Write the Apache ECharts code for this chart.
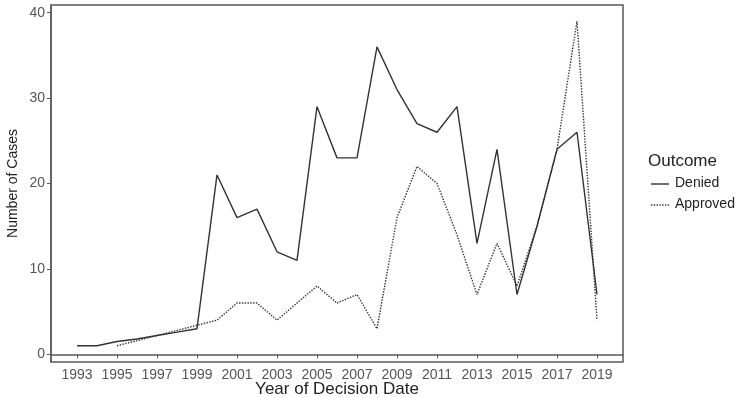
<!DOCTYPE html>
<html><head><meta charset="utf-8">
<script src="https://cdn.jsdelivr.net/npm/echarts@6/dist/echarts.min.js"></script>
<style>html,body{margin:0;padding:0;background:#fff}#c{width:746px;height:398px}</style>
</head><body><div id="c"></div>
<script>
const years = [1993,1994,1995,1996,1997,1998,1999,2000,2001,2002,2003,2004,2005,2006,2007,2008,2009,2010,2011,2012,2013,2014,2015,2016,2017,2018,2019];
const denied = [1,1,1.5,1.8,2.2,2.6,3,21,16,17,12,11,29,23,23,36,31,27,26,29,13,24,7,15,24,26,7];
const approvedYears = [1995,1996,1997,1998,1999,2000,2001,2002,2003,2004,2005,2006,2007,2008,2009,2010,2011,2012,2013,2014,2015,2016,2017,2018,2019];
const approved = [1,1.6,2.2,2.8,3.4,4,6,6,4,6,8,6,7,3,16,22,20,14,7,13,8,15,24,39,4];
const xTicks = [1993,1995,1997,1999,2001,2003,2005,2007,2009,2011,2013,2015,2017,2019];
const yTicks = [0,10,20,30,40];
const legendNames = ['Denied','Approved'];

const chart = echarts.init(document.getElementById('c'));
const font = 'Liberation Sans, Arial, sans-serif';
chart.setOption({
  animation: false,
  grid: {left: 51, right: 123, top: 5, bottom: 36, show: true, borderColor: '#5a5a5a', borderWidth: 1.5, backgroundColor: '#fff', containLabel: false, outerBoundsMode: 'none'},
  xAxis: {
    type: 'value', min: 1991.7, max: 2020.3,
    name: 'Year of Decision Date', nameLocation: 'middle', nameGap: 19, nameMoveOverlap: false,
    nameTextStyle: {color: '#222', fontSize: 17, fontFamily: font},
    axisLine: {show: true, lineStyle: {color: '#5a5a5a', width: 1.5}},
    axisTick: {show: true, length: 4, lineStyle: {color: '#5a5a5a'}, customValues: xTicks},
    axisLabel: {color: '#555', fontSize: 14, fontFamily: font, margin: 6, customValues: xTicks, formatter: v => String(v)},
    splitLine: {show: false}
  },
  yAxis: {
    type: 'value', min: -0.9, max: 40.9,
    name: 'Number of Cases', nameLocation: 'middle', nameGap: 31, nameMoveOverlap: false,
    nameTextStyle: {color: '#222', fontSize: 14, fontFamily: font},
    axisLine: {show: true, lineStyle: {color: '#5a5a5a', width: 1.5}},
    axisTick: {show: true, length: 4, lineStyle: {color: '#5a5a5a'}, customValues: yTicks},
    axisLabel: {color: '#555', fontSize: 14, fontFamily: font, margin: 6, customValues: yTicks},
    splitLine: {show: false}
  },
  graphic: [
    {type: 'text', left: 648, top: 153, style: {text: 'Outcome', fontSize: 17, fontFamily: font, fill: '#222'}},
    {type: 'line', shape: {x1: 651, y1: 184, x2: 669, y2: 184}, style: {stroke: '#333', lineWidth: 1.4}},
    {type: 'text', left: 675, top: 176, style: {text: legendNames[0], fontSize: 14, fontFamily: font, fill: '#222'}},
    {type: 'line', shape: {x1: 651, y1: 205, x2: 669, y2: 205}, style: {stroke: '#333', lineWidth: 1.4, lineDash: [1.4, 1.4]}},
    {type: 'text', left: 675, top: 197, style: {text: legendNames[1], fontSize: 14, fontFamily: font, fill: '#222'}}
  ],
  series: [
    {name: 'Denied', type: 'line', data: years.map((y,i)=>[y,denied[i]]), symbol: 'none',
      lineStyle: {color: '#333', width: 1.4, type: 'solid'}},
    {name: 'Approved', type: 'line', data: approvedYears.map((y,i)=>[y,approved[i]]), symbol: 'none',
      lineStyle: {color: '#333', width: 1.4, type: 'dotted'}}
  ]
});
</script></body></html>
